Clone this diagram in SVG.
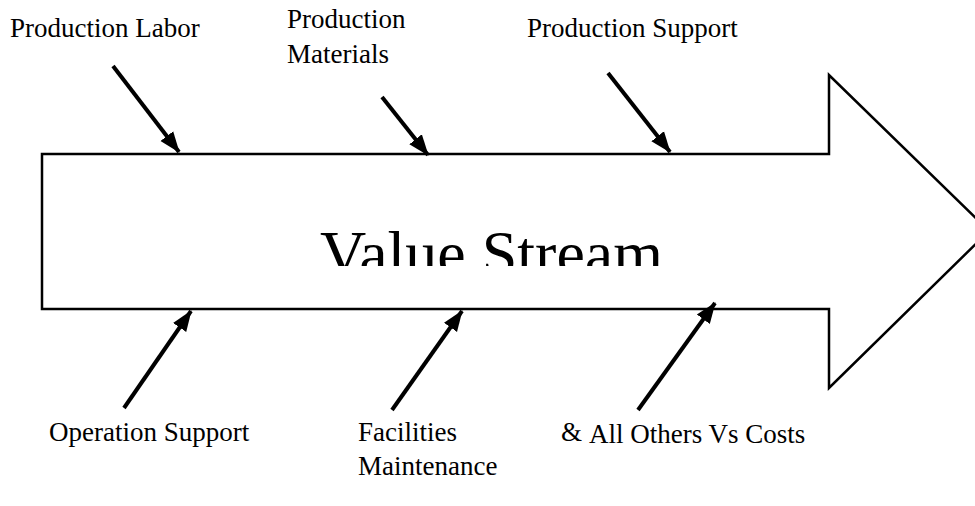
<svg xmlns="http://www.w3.org/2000/svg" width="975" height="506" viewBox="0 0 975 506">
<style>
.lbl{font-family:"Liberation Serif","Times New Roman",serif;font-size:27px;fill:#000}
.big{font-family:"Liberation Serif","Times New Roman",serif;font-size:64px;fill:#000}
.arr{stroke:#000;stroke-width:4;fill:none;marker-end:url(#ah)}
</style>
<defs>
<marker id="ah" markerUnits="userSpaceOnUse" markerWidth="22" markerHeight="18" refX="20" refY="8" orient="auto" viewBox="0 0 22 16">
<path d="M0,0 L21,8 L0,16 Z" fill="#000"/>
</marker>
<clipPath id="vc"><rect x="0" y="0" width="975" height="266"/></clipPath>
</defs>
<rect width="975" height="506" fill="#fff"/>
<g id="value-stream">
<polygon points="42,154 829,154 829,75 989,231 829,388 829,309 42,309" fill="#fff" stroke="#000" stroke-width="2.5"/>
<text class="big" x="320" y="275" clip-path="url(#vc)">Value Stream</text>
</g>
<g id="connectors">
<line class="arr" x1="113" y1="66" x2="179" y2="152"/>
<line class="arr" x1="382" y1="97" x2="428" y2="155"/>
<line class="arr" x1="608" y1="73" x2="670" y2="152"/>
<line class="arr" x1="124" y1="408" x2="191" y2="311"/>
<line class="arr" x1="392" y1="410" x2="462" y2="311"/>
<line class="arr" x1="638" y1="410" x2="715" y2="303"/>
</g>
<g id="production-labor"><text class="lbl" x="10" y="37">Production Labor</text></g>
<g id="production-materials"><text class="lbl" x="287" y="28">Production</text><text class="lbl" x="287" y="63">Materials</text></g>
<g id="production-support"><text class="lbl" x="527" y="37">Production Support</text></g>
<g id="operation-support"><text class="lbl" x="49" y="441">Operation Support</text></g>
<g id="facilities-maintenance"><text class="lbl" x="358" y="441">Facilities</text><text class="lbl" x="358" y="475">Maintenance</text><text class="lbl" x="561" y="441">&amp;</text></g>
<g id="all-others"><text class="lbl" x="589" y="443">All Others Vs Costs</text></g>
</svg>
